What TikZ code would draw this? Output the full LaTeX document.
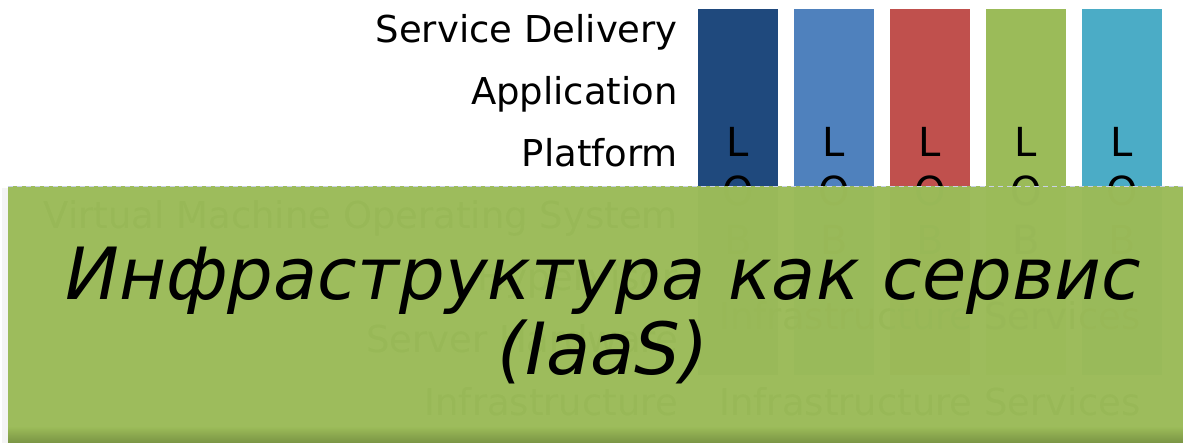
\documentclass[tikz,border=0pt]{standalone}
\usepackage{fontspec}
\setmainfont{DejaVu Sans}
\definecolor{cDarkBlue}{HTML}{1F497D}
\definecolor{cBlue}{HTML}{4F81BD}
\definecolor{cRed}{HTML}{C0504D}
\definecolor{cGreen}{HTML}{9BBB59}
\definecolor{cTeal}{HTML}{4BACC6}
\definecolor{cGreenDark}{HTML}{7A9444}
\definecolor{cDash}{HTML}{C9D1E6}
\tikzset{
  lbl/.style={anchor=base east, inner sep=0pt, font=\fontsize{37}{44}\selectfont},
  ctr/.style={anchor=base, inner sep=0pt, font=\fontsize{37}{44}\selectfont},
  lob/.style={anchor=base, inner sep=0pt, font=\fontsize{40}{48}\selectfont},
  bigtxt/.style={anchor=base, inner sep=0pt, font=\fontsize{72}{80}\selectfont\itshape},
}
\begin{document}
\begin{tikzpicture}[x=1pt,y=-1pt]
\useasboundingbox (0,0) rectangle (1183,443);
% columns (lines of business)
\foreach \c/\x in {cDarkBlue/698, cBlue/794, cRed/890, cGreen/986, cTeal/1082}{
  \fill[\c] (\x,9) rectangle ++(80,366);
  \node[lob] (L\x) at (\x+40,157) {L};
  \node[lob] (O\x) at (\x+40,206) {O};
  \node[lob] (B\x) at (\x+40,255) {B};
}
% layer labels
\node[lbl] (sd)  at (678,43)  {Service Delivery};
\node[lbl] (app) at (678,105) {Application};
\node[lbl] (pf)  at (678,167) {Platform};
\node[lbl] (vm)  at (678,229) {Virtual Machine Operating System};
\node[lbl] (hv)  at (678,291) {Hypervisor};
\node[lbl] (sh)  at (678,353) {Server Hardware};
\node[lbl] (inf) at (678,415) {Infrastructure};
\node[ctr] (is1) at (930,330) {Infrastructure Services};
\node[ctr] (is2) at (930,415) {Infrastructure Services};
% shadow at left edge
\fill[gray!9] (2,188) rectangle (8,443);
% overlay
\fill[cGreen, fill opacity=0.985] (8,186) rectangle (1183,443);
\shade[top color=cGreen, bottom color=cGreenDark] (8,427) rectangle (1183,443);
\draw[cDash, line width=1.5pt, dash pattern=on 5pt off 4pt] (8,186.5) -- (1183,186.5);
% title
\node[bigtxt] (t1) at (603,300) {Инфраструктура как сервис};
\node[bigtxt] (t2) at (603,374) {(IaaS)};
\end{tikzpicture}
\end{document}
